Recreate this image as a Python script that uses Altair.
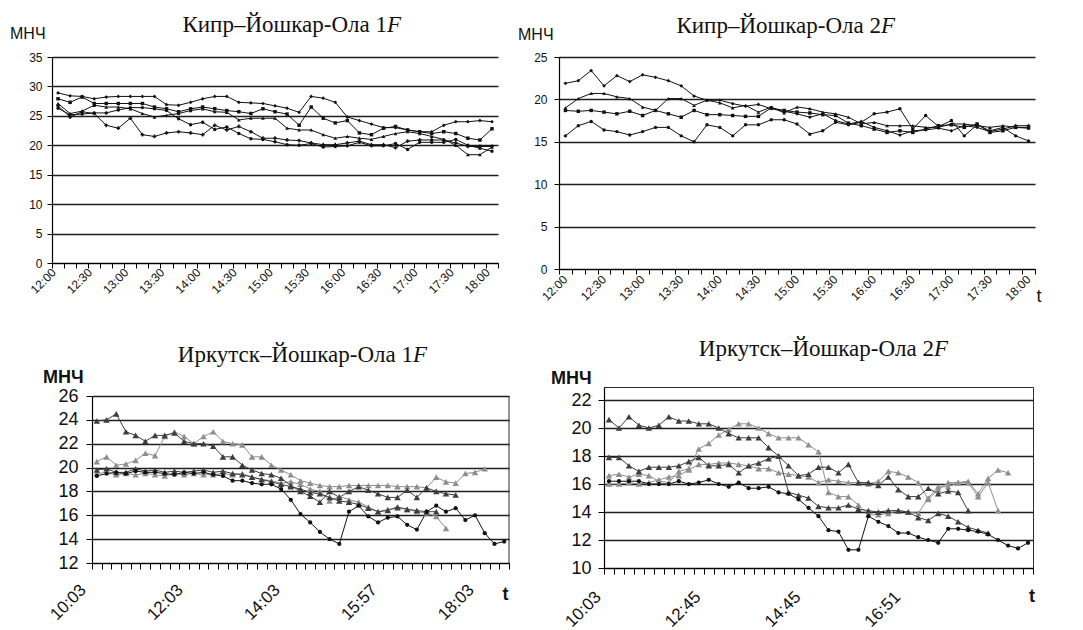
import json
import altair as alt
import pandas as pd

# ---------------- data ----------------
TOP_TICK_POS = [0, 3, 6, 9, 12, 15, 18, 21, 24, 27, 30, 33, 36]
TOP_TICK_LABELS = ["12:00", "12:30", "13:00", "13:30", "14:00", "14:30", "15:00",
                   "15:30", "16:00", "16:30", "17:00", "17:30", "18:00"]
BL_TICK_POS = [0, 10, 20, 30, 40]
BL_TICK_LABELS = ["10:03", "12:03", "14:03", "15:57", "18:03"]
BR_TICK_POS = [0, 10, 20, 30]
BR_TICK_LABELS = ["10:03", "12:45", "14:45", "16:51"]

# Кипр–Йошкар-Ола 1F (37 points each)
TL_S1 = [28.9, 28.4, 28.3, 27.9, 28.2, 28.3, 28.3, 28.3, 28.3, 26.9, 26.8, 27.3, 27.9, 28.3, 28.3, 27.3,
         27.2, 27.1, 26.7, 26.3, 25.6, 28.3, 28.0, 27.3, 24.8, 24.2, 23.6, 23.0, 23.0, 22.6, 22.3, 22.3,
         23.4, 24.0, 24.0, 24.2, 24.0]
TL_S2 = [27.9, 27.3, 28.2, 27.1, 27.1, 27.1, 27.1, 27.1, 26.5, 26.2, 25.7, 26.2, 26.5, 26.2, 25.9, 25.7,
         25.4, 26.2, 25.7, 25.3, 23.4, 26.5, 24.6, 23.8, 24.2, 22.1, 21.8, 22.9, 23.2, 22.6, 22.3, 22.0,
         22.3, 22.0, 21.2, 20.9, 22.8]
TL_S3 = [27.1, 25.4, 25.8, 26.8, 26.5, 26.5, 26.2, 25.4, 24.8, 25.1, 25.4, 25.9, 26.2, 25.7, 25.6, 24.3,
         24.6, 24.6, 24.6, 22.9, 22.6, 22.6, 21.8, 21.2, 21.5, 21.2, 21.0, 21.5, 22.0, 22.3, 22.0, 21.5,
         21.0, 20.0, 18.4, 18.4, 19.7]
TL_S4 = [26.7, 24.8, 25.7, 25.4, 23.4, 22.9, 24.6, 21.8, 21.5, 22.1, 22.3, 22.1, 21.8, 23.4, 22.6, 23.2,
         22.3, 21.2, 21.2, 20.9, 20.8, 20.4, 20.1, 20.1, 20.4, 20.7, 20.1, 20.1, 19.6, 20.7, 20.9, 20.9,
         20.9, 20.4, 19.8, 19.8, 19.8]
TL_S5 = [26.3, 25.2, 25.3, 25.5, 25.5, 26.0, 26.4, 26.4, 26.2, 25.9, 24.5, 23.5, 23.9, 22.7, 23.1, 22.0,
         21.1, 21.0, 20.6, 20.1, 20.0, 20.3, 19.7, 19.8, 19.9, 20.5, 19.9, 19.9, 20.3, 19.3, 20.5, 20.5,
         20.5, 21.0, 20.0, 19.5, 19.0]

# Кипр–Йошкар-Ола 2F (37 points each)
TR_S1 = [21.9, 22.2, 23.4, 21.6, 22.8, 22.1, 22.9, 22.6, 22.2, 21.6, 20.4, 19.9, 19.9, 19.5, 19.2, 19.4,
         18.9, 18.6, 18.3, 17.9, 18.3, 17.5, 17.1, 17.4, 16.7, 16.3, 15.8, 16.3, 16.4, 16.6, 16.3, 16.9,
         16.7, 16.2, 16.5, 16.9, 16.9]
TR_S2 = [19.0, 20.1, 20.7, 20.7, 20.3, 20.1, 19.1, 18.7, 20.1, 20.1, 19.3, 19.9, 19.6, 19.0, 19.3, 18.5,
         19.1, 18.4, 19.1, 18.9, 18.5, 18.3, 17.9, 17.1, 17.3, 16.9, 16.9, 16.9, 16.7, 16.7, 17.1, 17.1,
         16.9, 16.7, 16.9, 16.7, 16.6]
TR_S3 = [18.7, 18.6, 18.7, 18.5, 18.3, 18.6, 18.1, 18.7, 18.3, 17.9, 18.7, 18.2, 18.2, 18.1, 18.0, 18.0,
         19.0, 18.7, 18.5, 18.4, 18.2, 18.1, 17.2, 16.9, 16.5, 16.1, 16.3, 16.1, 16.5, 16.9, 17.0, 16.7,
         17.1, 16.1, 16.3, 16.7, 16.7]
TR_S4 = [15.7, 16.9, 17.4, 16.4, 16.2, 15.8, 16.2, 16.7, 16.7, 15.7, 15.0, 17.0, 16.7, 15.7, 17.0, 17.0,
         17.6, 17.6, 17.1, 15.9, 16.3, 17.3, 17.0, 17.3, 18.3, 18.5, 18.9, 16.5, 18.1, 16.8, 17.5, 15.7,
         17.0, 16.3, 16.7, 15.7, 15.1]

# Иркутск–Йошкар-Ола 1F
BL_BLACK = [19.3, 19.5, 19.6, 19.5, 19.7, 19.6, 19.6, 19.5, 19.4, 19.6, 19.5, 19.6, 19.4, 19.3, 18.9, 18.9,
            18.7, 18.6, 18.6, 18.2, 17.3, 16.1, 15.4, 14.6, 14.0, 13.6, 16.3, 16.8, 15.9, 15.4, 15.8, 15.9,
            15.2, 14.8, 16.3, 16.8, 16.3, 16.6, 15.6, 16.0, 14.5, 13.6, 13.8]
BL_DARK1 = [23.9, 24.0, 24.5, 23.0, 22.7, 22.2, 22.7, 22.7, 22.9, 22.2, 22.0, 22.0, 21.8, 20.9, 20.9, 20.2,
            19.8, 19.5, 19.4, 19.1, 18.5, 18.0, 17.6, 17.1, 18.0, 17.5, 18.0, 18.4, 18.1, 17.8, 17.5, 17.5,
            18.1, 17.5, 18.3, 18.0, 17.8, 17.7]
BL_LIGHT1 = [20.5, 20.9, 20.2, 20.3, 20.6, 21.2, 21.0, 22.6, 23.0, 22.6, 22.0, 22.6, 23.0, 22.2, 22.0, 21.9,
             20.9, 20.9, 20.2, 19.8, 19.4, 18.9, 18.7, 18.5, 18.4, 18.4, 18.5, 18.5, 18.5, 18.5, 18.5, 18.4,
             18.4, 18.4, 18.3, 19.2, 18.8, 18.7, 19.5, 19.6, 19.9]
BL_DARK2 = [19.8, 19.9, 19.6, 19.6, 19.9, 19.7, 19.8, 19.6, 19.7, 19.6, 19.7, 19.8, 19.6, 19.7, 19.5, 19.4,
            19.2, 19.0, 18.8, 18.6, 18.4, 18.2, 17.9, 17.8, 17.5, 17.2, 17.1, 16.9, 16.6, 16.3, 16.4, 16.7,
            16.5, 16.4, 16.3, 16.3]
BL_LIGHT2 = [19.5, 19.6, 19.4, 19.5, 19.4, 19.5, 19.4, 19.3, 19.5, 19.4, 19.5, 19.4, 19.4, 19.5, 19.4, 19.5,
             19.2, 19.0, 18.9, 18.7, 18.8, 18.6, 18.2, 18.0, 17.2, 17.6, 17.3, 17.1, 16.7, 16.3, 16.5, 16.6,
             16.5, 16.3, 16.2, 15.9, 14.9]

# Иркутск–Йошкар-Ола 2F
BR_BLACK = [16.2, 16.2, 16.2, 16.2, 16.0, 16.0, 16.0, 16.2, 16.0, 16.1, 16.3, 16.0, 15.8, 16.1, 15.7, 15.7,
            15.8, 15.4, 15.3, 14.9, 14.3, 13.7, 12.7, 12.6, 11.3, 11.3, 13.7, 13.3, 13.0, 12.5, 12.5, 12.2,
            12.0, 11.8, 12.8, 12.8, 12.7, 12.6, 12.4, 12.0, 11.6, 11.4, 11.8]
BR_DARK1 = [20.6, 20.0, 20.8, 20.2, 20.0, 20.2, 20.8, 20.5, 20.5, 20.3, 20.3, 20.0, 19.6, 19.3, 19.3, 19.3,
            18.6, 18.0, 17.3, 16.6, 16.7, 17.2, 17.2, 16.8, 17.4, 16.1, 16.1, 15.9, 16.5, 15.6, 15.1, 15.1,
            15.7, 15.3, 15.5, 15.4, 14.1]
BR_DARK2 = [17.9, 17.9, 17.3, 16.9, 17.2, 17.2, 17.2, 17.3, 17.6, 17.9, 17.3, 17.3, 17.4, 16.8, 17.3, 17.5,
            17.8, 18.0, 15.4, 15.2, 15.0, 14.4, 14.3, 14.3, 14.5, 14.2, 14.1, 14.0, 14.1, 14.1, 14.0, 13.6,
            13.4, 13.9, 13.7, 13.3, 12.9, 12.7, 12.5]
BR_LIGHT1 = [16.6, 16.7, 16.5, 16.7, 16.6, 16.2, 16.1, 16.9, 17.1, 18.5, 18.9, 19.5, 19.9, 20.3, 20.3, 20.0,
             19.6, 19.3, 19.3, 19.3, 18.8, 18.3, 15.4, 15.1, 15.1, 14.5, 13.8, 13.8, 13.9, 14.1, 14.0, 13.9,
             15.0, 15.8, 15.8, 16.1, 16.1, 15.1, 16.1, 14.1]
BR_LIGHT2 = [16.0, 16.0, 16.1, 16.0, 16.1, 16.3, 16.5, 16.6, 17.0, 17.4, 17.4, 17.5, 17.5, 17.4, 17.3, 17.1,
             17.1, 16.8, 16.7, 16.6, 16.5, 16.1, 16.3, 16.2, 16.1, 16.1, 16.0, 16.2, 16.9, 16.8, 16.5, 16.1,
             14.9, 15.6, 16.1, 16.1, 16.2, 15.3, 16.4, 17.0, 16.8]

BLACK = "#111111"
DARK = "#3d3d3d"
LIGHT = "#8e8e8e"
FRAME = "#2a2a2a"
SANS = "Liberation Sans"
SERIF = "Liberation Serif"
TITLE_SIZE = 23


def long_df(series):
    rows = []
    for name, vals, col, shp, sz in series:
        for k, v in enumerate(vals):
            rows.append({"s": name, "k": k, "v": v, "col": col, "shp": shp, "sz": sz})
    return pd.DataFrame(rows)


def txt(s, x, y, size, font=SANS, weight="normal", style="normal", align="left", color="#111111"):
    return alt.Chart(pd.DataFrame({"t": [s]})).mark_text(
        align=align, baseline="alphabetic", font=font, fontSize=size,
        fontWeight=weight, fontStyle=style, color=color
    ).encode(text="t:N", x=alt.value(x), y=alt.value(y))


def panel(series, n, tick_pos, tick_labels, ydom, yvals, w, h, box,
          title_main, title_x, title_y, mnch_x, mnch_y, mnch_size, mnch_bold,
          t_pos, ylab_size, ylab_pad, xlab_size, xlab_pad, xlab_off, tick_size,
          grid_w, framed, inset=0):
    """inset: the drawn plot area starts `inset` px right of the view origin."""
    df = long_df(series)
    arr = [""] * (n + 1)
    for p, lab in zip(tick_pos, tick_labels):
        arr[p] = lab
    expr = json.dumps(arr, ensure_ascii=False) + "[round(datum.value + 0.5)]"
    xaxis = alt.Axis(values=[k - 0.5 for k in range(n + 1)], labelExpr=expr, labelAngle=315,
                     labelAlign="right", labelBaseline="middle", labelOffset=xlab_off,
                     labelPadding=xlab_pad, labelOverlap=False, labelFlush=False,
                     labelFont=SANS, labelFontSize=xlab_size, labelColor="#111111",
                     tickSize=tick_size, tickColor="#000000", tickWidth=1,
                     domainColor="#000000", domainWidth=1.2, grid=False, title=None)
    yaxis_kw = dict(values=yvals, grid=True, gridColor="#1e1e1e", gridWidth=grid_w,
                    labelFont=SANS, labelFontSize=ylab_size, labelColor="#111111",
                    labelPadding=ylab_pad, tickSize=tick_size, tickColor="#000000",
                    domainColor="#000000", domainWidth=1.2, title=None)
    if inset:
        yaxis_kw["offset"] = -inset
        xscale = alt.Scale(domain=[-0.5, n - 0.5], nice=False, zero=False, range=[inset, w])
    else:
        xscale = alt.Scale(domain=[-0.5, n - 0.5], nice=False, zero=False)
    yaxis = alt.Axis(**yaxis_kw)
    yscale = alt.Scale(domain=ydom, nice=False, zero=False)
    x = alt.X("k:Q", scale=xscale, axis=xaxis)
    y = alt.Y("v:Q", scale=yscale, axis=yaxis)
    base = alt.Chart(df)
    lines = base.mark_line(strokeWidth=1).encode(
        x=x, y=y, color=alt.Color("col:N", scale=None), detail="s:N", order="k:Q")
    pts = base.mark_point(filled=True, opacity=1, strokeWidth=0).encode(
        x=x, y=y, color=alt.Color("col:N", scale=None), shape=alt.Shape("shp:N", scale=None),
        size=alt.Size("sz:Q", scale=None))
    L, T, R, B = box
    frame = alt.Chart(pd.DataFrame({"a": [0]})).mark_rect(opacity=0).encode(
        x=alt.value(-L), x2=alt.value(w + R), y=alt.value(-T), y2=alt.value(h + B))
    layers = [lines, pts,
              txt(title_main, title_x, title_y, TITLE_SIZE, font=SERIF, align="right"),
              txt("F", title_x, title_y, TITLE_SIZE, font=SERIF, style="italic"),
              txt("МНЧ", mnch_x, mnch_y, mnch_size, weight="bold" if mnch_bold else "normal"),
              frame]
    if t_pos is not None:
        tx, ty, tsize, tbold = t_pos
        layers.append(txt("t", tx, ty, tsize, weight="bold" if tbold else "normal", align="center"))
    if framed and inset:
        # right-hand border of the plot frame (top edge is the top grid line)
        edge = pd.DataFrame({"k": [n - 0.5], "v": [ydom[0]], "v2": [ydom[1]]})
        layers.append(alt.Chart(edge).mark_rule(color=FRAME, strokeWidth=1).encode(
            x=x, y=y, y2="v2:Q"))
    ch = alt.layer(*layers).properties(width=w, height=h)
    if framed and not inset:
        ch = ch.properties(view=alt.ViewBackground(stroke=FRAME, strokeWidth=1))
    return ch


# Both left panels have their view origin at page x=52 and end at page x=514.
tl = panel([("1", TL_S1, BLACK, "diamond", 14), ("2", TL_S2, BLACK, "square", 12),
            ("3", TL_S3, BLACK, "triangle-up", 14), ("4", TL_S4, BLACK, "cross", 14),
            ("5", TL_S5, BLACK, "circle", 12)],
           37, TOP_TICK_POS, TOP_TICK_LABELS, [0, 35], [0, 5, 10, 15, 20, 25, 30, 35],
           446, 206, (44, 49, 16, 67),
           "Кипр–Йошкар-Ола 1", 335, -25, -42, -18, 16, False,
           None, 12, 5, 12, 2, 1.5, 5, 1.4, False)

tr = panel([("1", TR_S1, BLACK, "diamond", 14), ("2", TR_S2, BLACK, "triangle-up", 14),
            ("3", TR_S3, BLACK, "square", 12), ("4", TR_S4, BLACK, "circle", 12)],
           37, TOP_TICK_POS, TOP_TICK_LABELS, [0, 25], [0, 5, 10, 15, 20, 25],
           476, 212, (45, 49, 10, 61),
           "Кипр–Йошкар-Ола 2", 322, -24, -41, -17, 16, False,
           (480, 245, 18, False), 12, 7, 12, 3, 6, 5, 1.4, False)

# lower-left: view origin at page 52, plot drawn from page 92 to 509
bl = panel([("l2", BL_LIGHT2, LIGHT, "triangle-up", 42), ("l1", BL_LIGHT1, LIGHT, "triangle-up", 42),
            ("d2", BL_DARK2, DARK, "triangle-up", 42), ("d1", BL_DARK1, DARK, "triangle-up", 42),
            ("b", BL_BLACK, BLACK, "circle", 18)],
           43, BL_TICK_POS, BL_TICK_LABELS, [12, 26], [12, 14, 16, 18, 20, 22, 24, 26],
           457, 167, (44, 66, 5, 58),
           "Иркутск–Йошкар-Ола 1", 361, -34, -9, -13, 18, True,
           (453.5, 204, 18, True), 18, 8, 17, 18, -9, 6, 1.5, True, inset=40)

br = panel([("l2", BR_LIGHT2, LIGHT, "triangle-up", 42), ("l1", BR_LIGHT1, LIGHT, "triangle-up", 42),
            ("d2", BR_DARK2, DARK, "triangle-up", 42), ("d1", BR_DARK1, DARK, "triangle-up", 42),
            ("b", BR_BLACK, BLACK, "circle", 18)],
           43, BR_TICK_POS, BR_TICK_LABELS, [10, 22.93], [10, 12, 14, 16, 18, 20, 22],
           429, 181, (89, 56, 10, 55),
           "Иркутск–Йошкар-Ола 2", 330, -31, -53, -3, 18, True,
           (428, 215, 18, True), 18, 7, 17, 20, -6, 6, 1.5, True)

chart = alt.concat(tl, tr, bl, br, columns=2, spacing=0, align="none").properties(
    padding={"left": 0, "top": 0, "right": 0, "bottom": 0}
).configure(background="white").configure_view(strokeWidth=0)

chart.save("out.html", embed_options={"renderer": "svg", "actions": False})
